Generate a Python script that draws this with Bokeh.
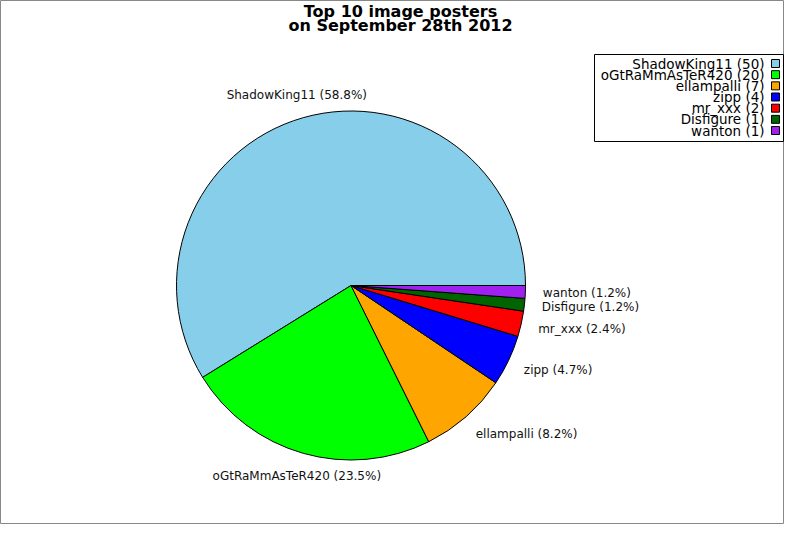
import math
from bokeh.plotting import figure
from bokeh.models import Range1d, ColumnDataSource
from bokeh.core.properties import value
from bokeh.embed import file_html
from bokeh.resources import INLINE

names = ["ShadowKing11", "oGtRaMmAsTeR420", "ellampalli", "zipp", "mr_xxx", "Disfigure", "wanton"]
counts = [50, 20, 7, 4, 2, 1, 1]
colors = ["#87CEEB", "#00FF00", "#FFA500", "#0000FF", "#FF0000", "#006400", "#A020F0"]
title_lines = ["Top 10 image posters", "on September 28th 2012"]

FONT = value("DejaVu Sans")
W, H = 784, 524
p = figure(width=W, height=H, x_range=Range1d(0, 784), y_range=Range1d(16, 540),
           output_backend="svg", toolbar_location=None, min_border=0,
           x_axis_type=None, y_axis_type=None)
p.grid.visible = False
p.outline_line_color = "#888888"
p.background_fill_color = "white"
p.border_fill_color = "white"

def Y(yref):
    return 540 - yref

total = sum(counts)
cx, cy, r = 350.5, Y(285), 174.5
starts, ends, cum = [], [], 0
for c in counts:
    starts.append(cum / total * 2 * math.pi)
    cum += c
    ends.append(cum / total * 2 * math.pi)

src = ColumnDataSource(dict(start=starts, end=ends, color=colors))
p.wedge(x=cx, y=cy, radius=r, start_angle="start", end_angle="end", source=src,
        fill_color="color", line_color="black", line_width=1, direction="anticlock")

# slice labels
for i, n in enumerate(names):
    mid = (starts[i] + ends[i]) / 2
    pct = counts[i] / total * 100
    R = 198
    lx = cx + R * math.cos(mid)
    ly = cy + R * math.sin(mid)
    c = math.cos(mid)
    if c > 0.5:
        align, off = "left", -6
    elif c < -0.5:
        align, off = "right", 6
    else:
        align, off = "center", 0
    p.text(x=[lx], y=[ly], text=[f"{n} ({pct:.1f}%)"], text_align=align,
           text_baseline="middle", x_offset=off, text_font=FONT,
           text_font_size="12px", text_color="#111111")

# title
for j, t in enumerate(title_lines):
    p.text(x=[400], y=[Y(11 + 14 * j)], text=[t], text_align="center",
           text_baseline="middle", text_font=FONT, text_font_size="16px",
           text_font_style="bold", text_color="black")

# legend (shifted slightly left to fit the frame)
lx_shift = -7
p.rect(x=[695.5 + lx_shift], y=[Y(97.5)], width=189, height=87, fill_color="white",
       line_color="black", line_width=1)
ly0, dy = 63, 11.17
leg_text = [f"{n} ({c})" for n, c in zip(names, counts)]
leg_y = [Y(ly0 + dy * i) for i in range(len(names))]
p.text(x=[771 + lx_shift] * len(names), y=leg_y, text=leg_text, text_align="right",
       text_baseline="middle", text_font=FONT, text_font_size="13.5px", text_color="black")
p.rect(x=[782 + lx_shift] * len(names), y=leg_y, width=8, height=8, fill_color=colors,
       line_color="black", line_width=1)

open("out.html", "w").write(file_html(p, INLINE))
